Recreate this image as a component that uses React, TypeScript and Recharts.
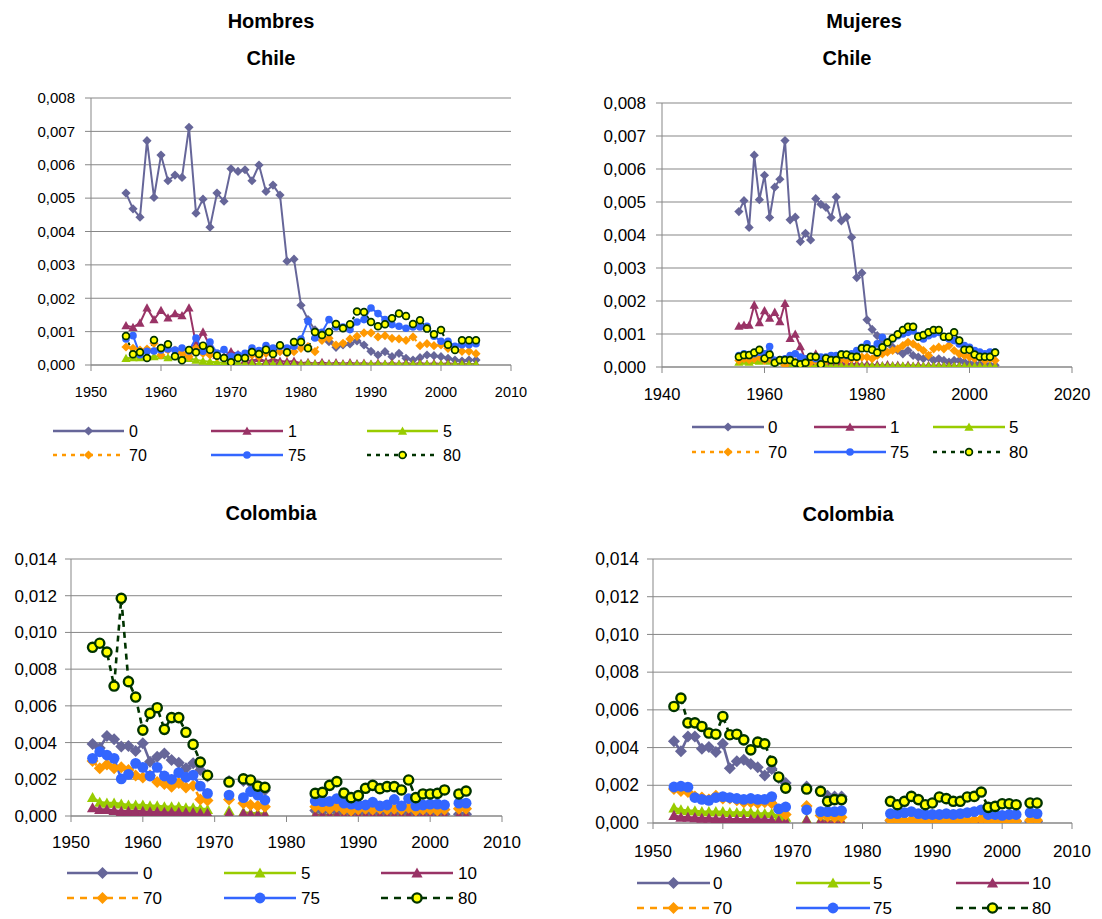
import React from 'react';
import { LineChart, Line, XAxis, YAxis, CartesianGrid } from 'recharts';

const FONT = '"Liberation Sans", Arial, Helvetica, sans-serif';

// ---------- Chile, annual 1955–2005 (values in per-thousand) ----------
const chileYears = [
  1955, 1956, 1957, 1958, 1959, 1960, 1961, 1962, 1963, 1964,
  1965, 1966, 1967, 1968, 1969, 1970, 1971, 1972, 1973, 1974,
  1975, 1976, 1977, 1978, 1979, 1980, 1981, 1982, 1983, 1984,
  1985, 1986, 1987, 1988, 1989, 1990, 1991, 1992, 1993, 1994,
  1995, 1996, 1997, 1998, 1999, 2000, 2001, 2002, 2003, 2004,
  2005,
];

const hombresChile0 = [
  5.15, 4.68, 4.43, 6.72, 5.02, 6.29, 5.52, 5.69, 5.62, 7.12,
  4.55, 4.97, 4.13, 5.15, 4.91, 5.88, 5.80, 5.85, 5.52, 5.99,
  5.20, 5.39, 5.09, 3.11, 3.17, 1.79, 1.36, 1.05, 0.85, 0.70,
  0.53, 0.60, 0.63, 0.72, 0.60, 0.41, 0.30, 0.40, 0.25, 0.35,
  0.20, 0.15, 0.22, 0.30, 0.28, 0.25, 0.20, 0.15, 0.12, 0.15,
  0.15,
];
const hombresChile1 = [
  1.18, 1.13, 1.26, 1.71, 1.36, 1.64, 1.41, 1.54, 1.48, 1.71,
  0.61, 0.99, 0.56, 0.30, 0.25, 0.40, 0.32, 0.15, 0.12, 0.20,
  0.10, 0.18, 0.12, 0.10, 0.12, 0.05, 0.08, 0.04, 0.08, 0.04,
  0.07, 0.04, 0.07, 0.04, 0.06, 0.03, 0.06, 0.03, 0.06, 0.03,
  0.06, 0.03, 0.06, 0.03, 0.05, 0.03, 0.05, 0.03, 0.04, 0.03,
  0.03,
];
const hombresChile5 = [
  0.20, 0.22, 0.22, 0.25, 0.25, 0.28, 0.22, 0.25, 0.22, 0.20,
  0.15, 0.12, 0.10, 0.08, 0.06, 0.05, 0.05, 0.04, 0.04, 0.03,
  0.04, 0.03, 0.03, 0.03, 0.03, 0.02, 0.05, 0.02, 0.03, 0.02,
  0.03, 0.02, 0.03, 0.02, 0.03, 0.02, 0.03, 0.02, 0.03, 0.02,
  0.03, 0.02, 0.03, 0.02, 0.02, 0.02, 0.02, 0.02, 0.02, 0.02,
  0.02,
];
const hombresChile70 = [
  0.54, 0.50, 0.45, 0.48, 0.65, 0.30, 0.45, 0.45, 0.35, 0.25,
  0.50, 0.35, 0.30, 0.25, 0.20, 0.15, 0.25, 0.20, 0.30, 0.25,
  0.35, 0.30, 0.40, 0.35, 0.40, 0.50, 0.55, 0.40, 0.74, 0.80,
  0.60, 0.65, 0.78, 0.86, 0.96, 0.96, 0.84, 0.88, 0.80, 0.78,
  0.74, 0.84, 0.58, 0.64, 0.58, 0.60, 0.50, 0.48, 0.41, 0.41,
  0.34,
];
const hombresChile75 = [
  0.78, 0.88, 0.31, 0.41, 0.42, 0.45, 0.48, 0.45, 0.51, 0.42,
  0.81, 0.41, 0.69, 0.36, 0.46, 0.26, 0.30, 0.35, 0.51, 0.43,
  0.58, 0.51, 0.56, 0.51, 0.56, 0.78, 1.31, 0.81, 0.98, 1.36,
  1.14, 1.14, 1.06, 1.29, 1.36, 1.71, 1.54, 1.36, 1.21, 1.16,
  1.10, 1.14, 1.14, 1.16, 0.86, 0.71, 0.71, 0.56, 0.61, 0.61,
  0.64,
];
const hombresChile80 = [
  0.87, 0.32, 0.38, 0.21, 0.75, 0.51, 0.62, 0.26, 0.14, 0.45,
  0.38, 0.58, 0.46, 0.28, 0.21, 0.08, 0.21, 0.21, 0.39, 0.33,
  0.46, 0.33, 0.59, 0.38, 0.69, 0.69, 0.50, 0.99, 0.90, 0.99,
  1.23, 1.10, 1.22, 1.60, 1.59, 1.29, 1.16, 1.22, 1.40, 1.54,
  1.47, 1.23, 1.34, 1.09, 0.92, 1.05, 0.61, 0.45, 0.74, 0.74,
  0.74,
];

const mujeresChile0 = [
  4.71, 5.04, 4.23, 6.42, 5.07, 5.81, 4.53, 5.45, 5.69, 6.86,
  4.46, 4.54, 3.80, 4.05, 3.85, 5.10, 4.93, 4.84, 4.53, 5.15,
  4.43, 4.54, 3.93, 2.71, 2.85, 1.43, 1.14, 0.95, 0.80, 0.75,
  0.60, 0.50, 0.40, 0.50, 0.35, 0.30, 0.25, 0.30, 0.20, 0.25,
  0.20, 0.15, 0.20, 0.20, 0.15, 0.10, 0.10, 0.08, 0.08, 0.05,
  0.05,
];
const mujeresChile1 = [
  1.24, 1.27, 1.27, 1.88, 1.35, 1.71, 1.48, 1.66, 1.38, 1.93,
  0.87, 1.00, 0.62, 0.20, 0.15, 0.40, 0.25, 0.20, 0.15, 0.12,
  0.10, 0.12, 0.08, 0.10, 0.06, 0.08, 0.05, 0.07, 0.04, 0.07,
  0.04, 0.06, 0.03, 0.06, 0.03, 0.06, 0.03, 0.05, 0.03, 0.05,
  0.03, 0.05, 0.03, 0.04, 0.03, 0.04, 0.02, 0.04, 0.02, 0.03,
  0.02,
];
const mujeresChile5 = [
  0.15, 0.18, 0.15, 0.20, 0.18, 0.22, 0.18, 0.15, 0.18, 0.15,
  0.10, 0.08, 0.06, 0.05, 0.05, 0.04, 0.04, 0.03, 0.03, 0.03,
  0.03, 0.02, 0.03, 0.02, 0.03, 0.02, 0.03, 0.02, 0.03, 0.02,
  0.03, 0.02, 0.03, 0.02, 0.02, 0.02, 0.02, 0.02, 0.02, 0.02,
  0.02, 0.02, 0.02, 0.02, 0.02, 0.02, 0.02, 0.02, 0.02, 0.02,
  0.02,
];
const mujeresChile70 = [
  0.20, 0.25, 0.22, 0.25, 0.30, 0.20, 0.25, 0.15, 0.20, 0.05,
  0.20, 0.15, 0.10, 0.10, 0.15, 0.20, 0.15, 0.20, 0.25, 0.20,
  0.25, 0.20, 0.25, 0.25, 0.30, 0.30, 0.25, 0.35, 0.40, 0.45,
  0.50, 0.55, 0.65, 0.75, 0.70, 0.60, 0.50, 0.35, 0.55, 0.60,
  0.55, 0.65, 0.50, 0.40, 0.35, 0.30, 0.25, 0.30, 0.20, 0.25,
  0.20,
];
const mujeresChile75 = [
  0.35, 0.40, 0.35, 0.40, 0.45, 0.40, 0.62, 0.20, 0.20, 0.25,
  0.35, 0.40, 0.30, 0.25, 0.30, 0.25, 0.30, 0.30, 0.35, 0.35,
  0.40, 0.35, 0.40, 0.50, 0.60, 0.70, 0.55, 0.70, 0.90, 0.75,
  0.85, 0.95, 1.00, 1.05, 1.10, 0.95, 0.85, 0.95, 1.00, 1.05,
  0.90, 0.85, 0.80, 0.70, 0.65, 0.60, 0.50, 0.45, 0.40, 0.45,
  0.45,
];
const mujeresChile80 = [
  0.31, 0.36, 0.36, 0.44, 0.52, 0.26, 0.38, 0.13, 0.21, 0.21,
  0.21, 0.13, 0.08, 0.13, 0.31, 0.31, 0.08, 0.26, 0.21, 0.21,
  0.38, 0.38, 0.31, 0.31, 0.57, 0.57, 0.52, 0.44, 0.60, 0.74,
  0.87, 0.99, 1.12, 1.22, 1.22, 0.92, 0.97, 1.05, 1.12, 1.12,
  0.92, 0.92, 1.05, 0.80, 0.52, 0.52, 0.38, 0.31, 0.31, 0.31,
  0.44,
];

// ---------- Colombia, 1953–2005 with missing years (per-thousand) ----------
const colombiaYears = [
  1953, 1954, 1955, 1956, 1957, 1958, 1959, 1960, 1961, 1962,
  1963, 1964, 1965, 1966, 1967, 1968, 1969, 1970, 1971, 1972,
  1973, 1974, 1975, 1976, 1977, 1978, 1979, 1980, 1981, 1982,
  1983, 1984, 1985, 1986, 1987, 1988, 1989, 1990, 1991, 1992,
  1993, 1994, 1995, 1996, 1997, 1998, 1999, 2000, 2001, 2002,
  2003, 2004, 2005,
];

const hombresCol0 = [
  3.92, 3.70, 4.36, 4.18, 3.78, 3.81, 3.54, 3.96, 2.96, 3.23,
  3.41, 3.05, 2.90, 2.60, 2.87, 2.50, 2.15, null, null, 1.90,
  null, 1.90, 1.80, 1.50, 1.40, null, null, null, null, null,
  null, 0.30, 0.25, 0.30, 0.25, 0.20, 0.25, 0.20, 0.15, 0.20,
  0.15, 0.20, 0.15, 0.15, 0.20, 0.15, 0.15, 0.15, 0.15, 0.10,
  null, 0.10, 0.10,
];
const hombresCol5 = [
  1.00, 0.75, 0.70, 0.70, 0.65, 0.60, 0.60, 0.60, 0.55, 0.55,
  0.50, 0.50, 0.50, 0.45, 0.45, 0.40, 0.35, null, null, 0.30,
  null, 0.20, 0.15, 0.15, 0.12, null, null, null, null, null,
  null, 0.06, 0.05, 0.05, 0.05, 0.05, 0.04, 0.04, 0.04, 0.04,
  0.04, 0.04, 0.04, 0.04, 0.04, 0.03, 0.03, 0.03, 0.03, 0.03,
  null, 0.03, 0.03,
];
const hombresCol10 = [
  0.45, 0.35, 0.35, 0.30, 0.25, 0.25, 0.25, 0.25, 0.22, 0.22,
  0.20, 0.20, 0.20, 0.18, 0.18, 0.15, 0.15, null, null, 0.15,
  null, 0.15, 0.10, 0.08, 0.08, null, null, null, null, null,
  null, 0.04, 0.04, 0.03, 0.04, 0.03, 0.03, 0.03, 0.03, 0.03,
  0.03, 0.03, 0.03, 0.03, 0.03, 0.03, 0.03, 0.03, 0.03, 0.03,
  null, 0.03, 0.03,
];
const hombresCol70 = [
  3.00, 2.60, 2.80, 2.60, 2.65, 2.50, 2.20, 2.10, 2.20, 1.85,
  1.75, 1.60, 1.80, 1.55, 1.65, 0.90, 0.85, null, null, 0.90,
  null, 0.70, 0.60, 0.55, 0.50, null, null, null, null, null,
  null, 0.50, 0.45, 0.40, 0.50, 0.35, 0.30, 0.35, 0.40, 0.35,
  0.40, 0.35, 0.40, 0.35, 0.45, 0.30, 0.35, 0.35, 0.30, 0.35,
  null, 0.40, 0.40,
];
const hombresCol75 = [
  3.14, 3.50, 3.32, 3.14, 2.02, 2.27, 2.87, 2.65, 2.18, 2.65,
  2.18, 2.00, 2.36, 2.11, 2.23, 1.63, 1.23, null, null, 1.14,
  null, 1.00, 1.33, 1.14, 0.87, null, null, null, null, null,
  null, 0.82, 0.78, 0.80, 0.95, 0.70, 0.65, 0.60, 0.60, 0.75,
  0.55, 0.60, 0.90, 0.55, 0.95, 0.55, 0.60, 0.65, 0.65, 0.60,
  null, 0.70, 0.70,
];
const hombresCol80 = [
  9.19, 9.41, 8.93, 7.08, 11.86, 7.32, 6.48, 4.68, 5.59, 5.90,
  4.72, 5.36, 5.36, 4.56, 3.90, 2.94, 2.22, null, null, 1.85,
  null, 2.02, 1.96, 1.63, 1.56, null, null, null, null, null,
  null, 1.23, 1.29, 1.67, 1.87, 1.25, 1.00, 1.11, 1.51, 1.67,
  1.49, 1.60, 1.60, 1.42, 1.96, 1.00, 1.20, 1.20, 1.23, 1.42,
  null, 1.20, 1.36,
];

const mujeresCol0 = [
  4.33, 3.80, 4.59, 4.59, 3.94, 4.03, 3.76, 4.20, 2.90, 3.27,
  3.35, 3.13, 2.95, 2.52, 2.86, 2.38, 2.12, null, null, 1.94,
  null, 1.70, 1.45, 1.40, 1.41, null, null, null, null, null,
  null, 0.12, 0.10, 0.12, 0.10, 0.10, 0.10, 0.10, 0.10, 0.10,
  0.10, 0.10, 0.10, 0.10, 0.10, 0.08, 0.08, 0.08, 0.08, 0.08,
  null, 0.08, 0.08,
];
const mujeresCol5 = [
  0.80, 0.70, 0.65, 0.65, 0.60, 0.60, 0.60, 0.60, 0.55, 0.55,
  0.55, 0.55, 0.50, 0.50, 0.50, 0.35, 0.30, null, null, 0.20,
  null, 0.15, 0.12, 0.10, 0.10, null, null, null, null, null,
  null, 0.05, 0.05, 0.05, 0.04, 0.04, 0.04, 0.04, 0.04, 0.04,
  0.04, 0.03, 0.03, 0.03, 0.03, 0.03, 0.03, 0.03, 0.03, 0.03,
  null, 0.03, 0.03,
];
const mujeresCol10 = [
  0.40, 0.30, 0.30, 0.28, 0.25, 0.25, 0.22, 0.22, 0.20, 0.20,
  0.20, 0.18, 0.18, 0.18, 0.15, 0.12, 0.10, null, null, 0.15,
  null, 0.12, 0.08, 0.08, 0.06, null, null, null, null, null,
  null, 0.03, 0.03, 0.03, 0.03, 0.03, 0.03, 0.03, 0.03, 0.03,
  0.03, 0.03, 0.03, 0.03, 0.03, 0.03, 0.03, 0.03, 0.03, 0.03,
  null, 0.03, 0.03,
];
const mujeresCol70 = [
  1.80, 1.70, 1.65, 1.40, 1.35, 1.25, 1.45, 1.30, 1.30, 1.20,
  1.10, 1.10, 1.05, 1.10, 1.05, 0.70, 0.45, null, null, 0.90,
  null, 0.40, 0.35, 0.30, 0.30, null, null, null, null, null,
  null, 0.15, 0.15, 0.10, 0.15, 0.10, 0.10, 0.10, 0.15, 0.10,
  0.10, 0.10, 0.15, 0.15, 0.20, 0.10, 0.10, 0.10, 0.10, 0.10,
  null, 0.15, 0.15,
];
const mujeresCol75 = [
  1.91, 1.95, 1.90, 1.35, 1.25, 1.20, 1.35, 1.40, 1.35, 1.30,
  1.25, 1.30, 1.25, 1.25, 1.40, 0.75, 0.85, null, null, 0.70,
  null, 0.60, 0.60, 0.60, 0.65, null, null, null, null, null,
  null, 0.50, 0.50, 0.55, 0.60, 0.50, 0.45, 0.45, 0.45, 0.50,
  0.45, 0.50, 0.55, 0.60, 0.70, 0.45, 0.45, 0.40, 0.45, 0.45,
  null, 0.55, 0.50,
];
const mujeresCol80 = [
  6.18, 6.62, 5.31, 5.31, 5.12, 4.77, 4.71, 5.65, 4.68, 4.71,
  4.41, 3.88, 4.29, 4.20, 3.27, 2.44, 1.85, null, null, 1.80,
  null, 1.68, 1.15, 1.24, 1.24, null, null, null, null, null,
  null, 1.15, 0.97, 1.15, 1.41, 1.24, 0.97, 1.06, 1.38, 1.29,
  1.15, 1.15, 1.38, 1.41, 1.64, 0.83, 0.88, 1.02, 1.02, 0.97,
  null, 1.06, 1.06,
];

// ---------- axis ticks ----------
const chileYTicks = [0, 0.001, 0.002, 0.003, 0.004, 0.005, 0.006, 0.007, 0.008];
const colombiaYTicks = [0, 0.002, 0.004, 0.006, 0.008, 0.01, 0.012, 0.014];
const decadeTicks = [1950, 1960, 1970, 1980, 1990, 2000, 2010];
const twentyYearTicks = [1940, 1960, 1980, 2000, 2020];

// ---------- series appearance ----------
type MarkerKind = 'diamond' | 'triangle' | 'circle' | 'ring';
interface SeriesDef {
  key: string;
  label: string;
  color: string;
  kind: MarkerKind;
  dash?: 'dot' | 'dash';
}

const PURPLE = '#666699';
const MAROON = '#993366';
const LIME = '#99CC00';
const ORANGE = '#FF9900';
const BLUE = '#3366FF';
const DARKGREEN = '#003300';
const YELLOW = '#FFFF00';

const chileSeries: SeriesDef[] = [
  { key: 's0', label: '0', color: PURPLE, kind: 'diamond' },
  { key: 's1', label: '1', color: MAROON, kind: 'triangle' },
  { key: 's5', label: '5', color: LIME, kind: 'triangle' },
  { key: 's70', label: '70', color: ORANGE, kind: 'diamond', dash: 'dot' },
  { key: 's75', label: '75', color: BLUE, kind: 'circle' },
  { key: 's80', label: '80', color: DARKGREEN, kind: 'ring', dash: 'dot' },
];
const colombiaSeries: SeriesDef[] = [
  { key: 's0', label: '0', color: PURPLE, kind: 'diamond' },
  { key: 's5', label: '5', color: LIME, kind: 'triangle' },
  { key: 's10', label: '10', color: MAROON, kind: 'triangle' },
  { key: 's70', label: '70', color: ORANGE, kind: 'diamond', dash: 'dash' },
  { key: 's75', label: '75', color: BLUE, kind: 'circle' },
  { key: 's80', label: '80', color: DARKGREEN, kind: 'ring', dash: 'dash' },
];

type Row = Record<string, number | null>;
function buildRows(years: number[], defs: SeriesDef[], values: (number | null)[][]): Row[] {
  return years.map((year, i) => {
    const row: Row = { year };
    defs.forEach((d, j) => {
      const v = values[j][i];
      row[d.key] = v == null ? null : v / 1000;
    });
    return row;
  });
}

const hombresChileRows = buildRows(chileYears, chileSeries, [
  hombresChile0, hombresChile1, hombresChile5, hombresChile70, hombresChile75, hombresChile80,
]);
const mujeresChileRows = buildRows(chileYears, chileSeries, [
  mujeresChile0, mujeresChile1, mujeresChile5, mujeresChile70, mujeresChile75, mujeresChile80,
]);
const hombresColRows = buildRows(colombiaYears, colombiaSeries, [
  hombresCol0, hombresCol5, hombresCol10, hombresCol70, hombresCol75, hombresCol80,
]);
const mujeresColRows = buildRows(colombiaYears, colombiaSeries, [
  mujeresCol0, mujeresCol5, mujeresCol10, mujeresCol70, mujeresCol75, mujeresCol80,
]);

// ---------- marker drawing ----------
interface MarkerScale {
  diamond: number;
  triangle: number;
  circle: number;
  ring: number;
  ringStroke: number;
}
const smallMarkers: MarkerScale = { diamond: 4.6, triangle: 4.6, circle: 3.8, ring: 3.4, ringStroke: 1.7 };
const largeMarkers: MarkerScale = { diamond: 6, triangle: 5.6, circle: 5.4, ring: 4.6, ringStroke: 2.4 };

function markerShape(kind: MarkerKind, cx: number, cy: number, color: string, s: MarkerScale, key?: string) {
  if (kind === 'diamond') {
    const r = s.diamond;
    return <path key={key} d={`M${cx},${cy - r}L${cx + r},${cy}L${cx},${cy + r}L${cx - r},${cy}Z`} fill={color} />;
  }
  if (kind === 'triangle') {
    const r = s.triangle;
    return (
      <path key={key} d={`M${cx},${cy - r}L${cx + r},${cy + r * 0.8}L${cx - r},${cy + r * 0.8}Z`} fill={color} />
    );
  }
  if (kind === 'circle') {
    return <circle key={key} cx={cx} cy={cy} r={s.circle} fill={color} />;
  }
  return <circle key={key} cx={cx} cy={cy} r={s.ring} fill={YELLOW} stroke={DARKGREEN} strokeWidth={s.ringStroke} />;
}

function dotRenderer(def: SeriesDef, s: MarkerScale) {
  const fill = def.kind === 'ring' ? DARKGREEN : def.color;
  return (props: any) => {
    const { cx, cy, index, value } = props;
    const k = `${def.key}-${index}`;
    if (cx == null || cy == null || value == null || Number.isNaN(cy)) return <g key={k} />;
    return markerShape(def.kind, cx, cy, fill, s, k);
  };
}

// ---------- panel configuration ----------
interface PanelCfg {
  id: string;
  left: number;
  top: number;
  width: number;
  height: number;
  margin: { top: number; right: number; bottom: number; left: number };
  yWidth: number;
  rows: Row[];
  series: SeriesDef[];
  xDomain: [number, number];
  xTicks: number[];
  yDomain: [number, number];
  yTicks: number[];
  yFont: number;
  xFont: number;
  yTickMargin: number;
  xTickMargin: number;
  lineWidth: number;
  markers: MarkerScale;
  dotDash: string;
  dashDash: string;
}

const panels: PanelCfg[] = [
  {
    id: 'hombres-chile', left: 0, top: 0, width: 540, height: 480,
    margin: { top: 98, right: 29, bottom: 85, left: 21 }, yWidth: 70,
    rows: hombresChileRows, series: chileSeries,
    xDomain: [1950, 2010], xTicks: decadeTicks, yDomain: [0, 0.008], yTicks: chileYTicks,
    yFont: 15, xFont: 14.5, yTickMargin: 10, xTickMargin: 16, lineWidth: 2, markers: smallMarkers,
    dotDash: '3 4', dashDash: '5 5',
  },
  {
    id: 'mujeres-chile', left: 560, top: 0, width: 542, height: 480,
    margin: { top: 103, right: 30, bottom: 83, left: 32 }, yWidth: 70,
    rows: mujeresChileRows, series: chileSeries,
    xDomain: [1940, 2020], xTicks: twentyYearTicks, yDomain: [0, 0.008], yTicks: chileYTicks,
    yFont: 17, xFont: 16.5, yTickMargin: 10, xTickMargin: 15, lineWidth: 2, markers: smallMarkers,
    dotDash: '3 4', dashDash: '5 5',
  },
  {
    id: 'hombres-colombia', left: 0, top: 480, width: 540, height: 439,
    margin: { top: 79, right: 38, bottom: 73, left: 11 }, yWidth: 60,
    rows: hombresColRows, series: colombiaSeries,
    xDomain: [1950, 2010], xTicks: decadeTicks, yDomain: [0, 0.014], yTicks: colombiaYTicks,
    yFont: 17, xFont: 17, yTickMargin: 8, xTickMargin: 14, lineWidth: 2.6, markers: largeMarkers,
    dotDash: '6 5', dashDash: '6 5',
  },
  {
    id: 'mujeres-colombia', left: 560, top: 480, width: 542, height: 439,
    margin: { top: 79, right: 30, bottom: 66, left: 23 }, yWidth: 70,
    rows: mujeresColRows, series: colombiaSeries,
    xDomain: [1950, 2010], xTicks: decadeTicks, yDomain: [0, 0.014], yTicks: colombiaYTicks,
    yFont: 17.5, xFont: 17, yTickMargin: 8, xTickMargin: 16, lineWidth: 2.6, markers: largeMarkers,
    dotDash: '6 5', dashDash: '6 5',
  },
];

const formatRate = (v: number) => v.toFixed(3).replace('.', ',');
const AXIS_GREY = '#878787';

function Panel({ p }: { p: PanelCfg }) {
  return (
    <div style={{ position: 'absolute', left: p.left, top: p.top, width: p.width, height: p.height }}>
      <LineChart width={p.width} height={p.height} data={p.rows} margin={p.margin}>
        <CartesianGrid vertical={false} stroke={AXIS_GREY} strokeWidth={1} />
        <XAxis
          type="number"
          dataKey="year"
          domain={p.xDomain}
          ticks={p.xTicks}
          allowDataOverflow
          height={30}
          stroke={AXIS_GREY}
          tickSize={6}
          tickMargin={p.xTickMargin}
          tick={{ fill: '#000', fontSize: p.xFont, fontFamily: FONT }}
        />
        <YAxis
          type="number"
          domain={p.yDomain}
          ticks={p.yTicks}
          allowDataOverflow
          width={p.yWidth}
          stroke={AXIS_GREY}
          tickSize={6}
          tickMargin={p.yTickMargin}
          tickFormatter={formatRate}
          tick={{ fill: '#000', fontSize: p.yFont, fontFamily: FONT }}
        />
        {p.series.map((s) => (
          <Line
            key={s.key}
            type="linear"
            dataKey={s.key}
            stroke={s.color}
            strokeWidth={p.lineWidth}
            strokeDasharray={s.dash === 'dot' ? p.dotDash : s.dash === 'dash' ? p.dashDash : undefined}
            dot={dotRenderer(s, p.markers)}
            activeDot={false}
            connectNulls={false}
            isAnimationActive={false}
          />
        ))}
      </LineChart>
    </div>
  );
}

// ---------- titles and legends ----------
interface LegendCfg {
  series: SeriesDef[];
  rowsY: [number, number];
  cols: [number, number][];
  fontSize: number;
  gap: number;
  markers: MarkerScale;
  dash: string;
}

const legends: LegendCfg[] = [
  { series: chileSeries, rowsY: [431, 455], cols: [[53, 124], [211, 283], [367, 438]], fontSize: 16, gap: 5, markers: smallMarkers, dash: '4 5' },
  { series: chileSeries, rowsY: [427, 452], cols: [[692, 764], [814, 886], [933, 1005]], fontSize: 17, gap: 4, markers: smallMarkers, dash: '4 5' },
  { series: colombiaSeries, rowsY: [873, 898], cols: [[67, 138], [224, 296], [381, 453]], fontSize: 17, gap: 5, markers: largeMarkers, dash: '7 6' },
  { series: colombiaSeries, rowsY: [883, 908], cols: [[637, 710], [796, 870], [956, 1029]], fontSize: 17, gap: 3, markers: largeMarkers, dash: '7 6' },
];

const titles = [
  { text: 'Hombres', x: 271, y: 21 },
  { text: 'Chile', x: 271, y: 58 },
  { text: 'Mujeres', x: 864, y: 21 },
  { text: 'Chile', x: 847, y: 58 },
  { text: 'Colombia', x: 271, y: 513 },
  { text: 'Colombia', x: 848, y: 514 },
];

function Overlay() {
  return (
    <svg
      width={1102}
      height={919}
      style={{ position: 'absolute', left: 0, top: 0, pointerEvents: 'none' }}
    >
      {titles.map((t, i) => (
        <text
          key={`t${i}`}
          x={t.x}
          y={t.y}
          textAnchor="middle"
          dominantBaseline="central"
          fontFamily={FONT}
          fontWeight="bold"
          fontSize={20}
          fill="#000"
        >
          {t.text}
        </text>
      ))}
      {legends.map((lg, li) =>
        lg.series.map((s, si) => {
          const row = si < 3 ? 0 : 1;
          const [x1, x2] = lg.cols[si % 3];
          const y = lg.rowsY[row];
          const cx = (x1 + x2) / 2;
          const fill = s.kind === 'ring' ? DARKGREEN : s.color;
          return (
            <g key={`lg${li}-${si}`}>
              <line
                x1={x1}
                x2={x2}
                y1={y}
                y2={y}
                stroke={s.color}
                strokeWidth={2.6}
                strokeDasharray={s.dash ? lg.dash : undefined}
              />
              {markerShape(s.kind, cx, y, fill, lg.markers)}
              <text
                x={x2 + lg.gap}
                y={y}
                dominantBaseline="central"
                fontFamily={FONT}
                fontSize={lg.fontSize}
                fill="#000"
              >
                {s.label}
              </text>
            </g>
          );
        })
      )}
    </svg>
  );
}

export default function App() {
  return (
    <div
      style={{
        position: 'absolute',
        left: 0,
        top: 0,
        width: 1102,
        height: 919,
        background: '#fff',
        overflow: 'hidden',
        fontFamily: FONT,
      }}
    >
      {panels.map((p) => (
        <Panel key={p.id} p={p} />
      ))}
      <Overlay />
    </div>
  );
}
